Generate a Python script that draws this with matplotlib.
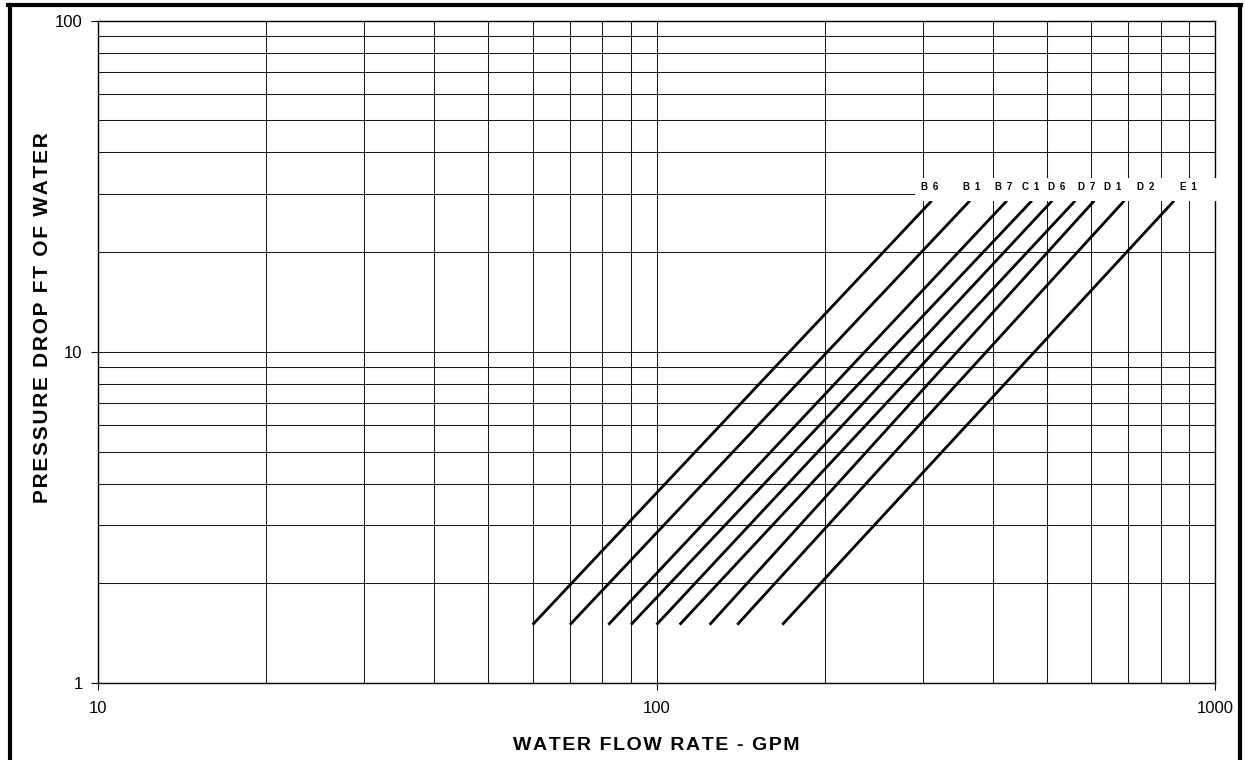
import matplotlib
matplotlib.use("Agg")
import matplotlib.pyplot as plt
from matplotlib.patches import Rectangle
from matplotlib.lines import Line2D
from matplotlib.ticker import LogLocator, NullFormatter, FixedLocator

plt.rcParams['font.family'] = ['Liberation Sans', 'DejaVu Sans']

# --- data -------------------------------------------------------------
models = ["B 6", "B 1", "B 7", "C 1", "D 6", "D 7", "D 1", "D 2", "E 1"]
pd_low = 1.5        # ft of water at low end of each curve
pd_high = 28.6      # ft of water at visible top end of each curve
flow_low = [60, 70, 82, 90, 100, 110, 124.5, 139.5, 168]
flow_high = [311, 364, 424, 470, 511, 562, 608, 688, 845]
label_flow = [308, 366, 419, 468, 521, 588, 657, 752, 895]
label_pd = 31.5

x_ticks = [10, 100, 1000]
y_ticks = [1, 10, 100]
x_title = "WATER FLOW RATE - GPM"
y_title = "PRESSURE DROP FT OF WATER"


def spaced(s, sep='\u200a'):
    return sep.join(s)


# --- figure -----------------------------------------------------------
fig = plt.figure(figsize=(12.45, 7.6), dpi=100)
ax = fig.add_axes([98 / 1245, 77 / 760, 1117 / 1245, 662.3 / 760])

ax.set_xscale('log')
ax.set_yscale('log')
ax.set_xlim(10, 1000)
ax.set_ylim(1, 100)

ax.xaxis.set_major_locator(FixedLocator(x_ticks))
ax.yaxis.set_major_locator(FixedLocator(y_ticks))
ax.set_xticklabels([str(v) for v in x_ticks])
ax.set_yticklabels([str(v) for v in y_ticks])
ax.xaxis.set_minor_locator(LogLocator(base=10, subs=range(2, 10)))
ax.yaxis.set_minor_locator(LogLocator(base=10, subs=range(2, 10)))
ax.xaxis.set_minor_formatter(NullFormatter())
ax.yaxis.set_minor_formatter(NullFormatter())

ax.tick_params(which='major', length=5, width=0.8, color='black',
               labelsize=12, pad=6, direction='out')
ax.tick_params(which='minor', length=0)
ax.tick_params(axis='x', pad=8)

ax.grid(True, which='both', color='#1a1a1a', linewidth=0.75)
ax.set_axisbelow(True)
for s in ax.spines.values():
    s.set_color('black')
    s.set_linewidth(1.0)

for fl, fh in zip(flow_low, flow_high):
    ax.plot([fl, fh], [pd_low, pd_high], color='black', linewidth=2.0,
            solid_capstyle='butt', zorder=3)

# white label strip covering gridlines
strip = Rectangle(((915 - 98) / 1117, (683 - 201) / 662.3),
                  (1219 - 915) / 1117, 23 / 662.3,
                  transform=ax.transAxes, facecolor='white', edgecolor='none',
                  clip_on=False, zorder=4)
ax.add_patch(strip)

for m, lx in zip(models, label_flow):
    ax.text(lx, label_pd, m.replace(' ', '\u2002'), ha='center', va='center',
            fontsize=7, fontweight='bold', zorder=5)

ax.set_xlabel(spaced(x_title), fontsize=14, fontweight='bold', labelpad=15)
ax.set_ylabel(spaced(y_title), fontsize=15, fontweight='bold', labelpad=2)
ax.yaxis.label.set_y(0.551)

# outer frame
fig.add_artist(Line2D([9.5 / 1245, 9.5 / 1245], [0, 1 - 5 / 760],
                      transform=fig.transFigure, color='black', linewidth=3))
fig.add_artist(Line2D([1239.5 / 1245, 1239.5 / 1245], [0, 1 - 5 / 760],
                      transform=fig.transFigure, color='black', linewidth=3))
fig.add_artist(Line2D([8 / 1245, 1241 / 1245], [1 - 5 / 760, 1 - 5 / 760],
                      transform=fig.transFigure, color='black', linewidth=3))

fig.savefig('out.png', dpi=100)
